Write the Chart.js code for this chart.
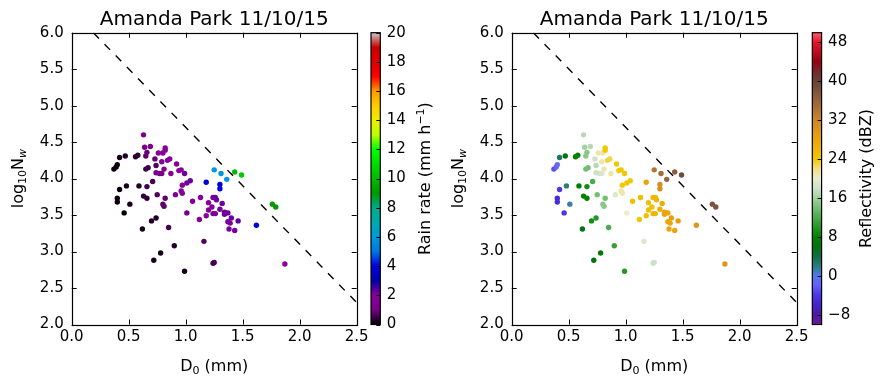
<!DOCTYPE html>
<html><head><meta charset="utf-8">
<script src="https://cdn.jsdelivr.net/npm/chart.js@4.4.1/dist/chart.umd.min.js"></script>
<style>
html,body{margin:0;padding:0;background:#fff;}
#wrap{position:relative;width:886px;height:386px;overflow:hidden;background:#fff;}
#wrap canvas{position:absolute;left:0;top:0;width:886px;height:386px;}
</style></head><body>
<div id="wrap">
<canvas id="c1" width="886" height="386"></canvas>
<canvas id="c2" width="886" height="386"></canvas>
<canvas id="c3" width="886" height="386"></canvas>
<canvas id="c4" width="886" height="386"></canvas>
</div>
<script>
// ---------------- data ----------------
const titleText = 'Amanda Park 11/10/15';
const d0 = [0.63,0.64,0.69,0.66,0.65,0.76,0.80,0.82,0.82,0.73,0.79,0.84,0.86,0.74,0.67,0.65,0.81,0.74,0.77,0.79,0.87,0.92,0.94,0.96,0.99,
  0.42,0.47,0.56,0.58,0.37,0.39,0.40,0.71,0.59,0.66,0.48,0.42,0.40,0.40,0.51,0.46,0.63,0.66,0.75,0.82,0.80,0.81,0.91,0.96,0.97,
  0.97,1.01,1.04,1.06,1.01,0.70,0.74,0.62,0.85,0.90,0.78,0.72,0.99,1.16,1.24,1.25,1.18,1.25,1.31,1.36,1.30,1.30,1.43,1.49,
  1.13,1.20,1.24,1.26,1.27,1.32,1.23,1.20,1.30,1.24,1.26,1.18,1.12,1.34,1.34,1.35,1.37,1.40,1.37,1.39,1.46,1.38,1.43,
  1.62,1.76,1.79,1.87];
const logNw = [4.60,4.43,4.44,4.36,4.31,4.35,4.35,4.42,4.39,4.27,4.23,4.25,4.27,4.18,4.15,4.13,4.13,4.08,4.07,4.07,4.07,4.20,4.11,4.12,4.07,
  4.29,4.31,4.30,4.32,4.13,4.16,4.19,3.96,3.90,3.89,3.90,3.85,3.73,3.68,3.65,3.53,3.76,3.73,3.78,3.73,3.65,3.62,3.78,3.83,3.80,
  3.91,3.94,3.97,3.69,3.53,3.42,3.46,3.31,3.33,3.08,2.98,2.88,2.73,3.14,2.84,2.85,3.95,4.12,4.07,3.99,3.92,3.86,4.09,4.05,
  3.74,3.67,3.74,3.74,3.71,3.66,3.61,3.57,3.58,3.52,3.52,3.49,3.44,3.54,3.51,3.53,3.53,3.46,3.41,3.39,3.42,3.31,3.29,
  3.36,3.65,3.61,2.83];
const rainRate = [1.4,1.0,1.3,0.9,0.8,1.8,1.8,2.0,2.0,0.8,1.8,2.0,2.0,0.7,0.5,0.5,1.8,1.0,1.2,1.2,1.8,2.0,2.0,2.0,2.2,
  0.2,0.3,0.3,0.4,0.1,0.1,0.1,0.6,0.3,0.5,0.2,0.1,0.1,0.1,0.2,0.1,0.4,0.4,0.7,0.8,0.8,0.8,1.5,1.8,1.8,
  2.0,2.1,2.2,2.0,1.0,0.3,0.3,0.2,0.6,0.3,0.2,0.2,0.2,0.7,0.6,0.6,4.0,6.0,6.0,6.0,4.0,4.0,10.0,10.5,
  2.0,2.0,2.2,2.2,2.2,2.2,2.0,2.0,2.2,2.1,2.1,2.0,1.8,2.2,2.2,2.2,2.2,2.2,2.1,2.1,2.3,2.1,2.1,
  4.0,9.0,9.0,2.0];
const reflectivity = [17,16,17,15,15,21,21,24,24,18,21,23,23,17,14,14,21,18,18,19,21,24,24,24,24,
  3,6,8,8,-3,-2,-1,12,7,9,2,-4,-5,-5,1,-4,8,8,14,14,15,15,19,21,21,
  24,24,24,25,20,9,10,6,12,11,7,6,10,19,18,18,28,34,35,36,31,31,37,39,
  25,25,26,26,26,27,25,25,27,26,26,25,24,28,28,28,28,29,28,28,29,28,28,
  30,38,38,30];
const lineD0 = [0.19, 2.5];
const lineNw = [6.0, 2.3];
const xRange = [0, 2.5];
const yRange = [2, 6];
const xTicks = [0, 0.5, 1.0, 1.5, 2.0, 2.5];
const yTicks = [2.0, 2.5, 3.0, 3.5, 4.0, 4.5, 5.0, 5.5, 6.0];
const rainRange = [0, 20];
const rainTicks = [0, 2, 4, 6, 8, 10, 12, 14, 16, 18, 20];
const reflRange = [-10, 50];
const reflTicks = [-8, 0, 8, 16, 24, 32, 40, 48];

// ---------------- colormaps (styles) ----------------
const NIPY_R = [0,0.4667,0.5333,0,0,0,0,0,0,0,0,0,0,0.7333,0.9333,1,1,1,0.8667,0.8,0.8];
const NIPY_G = [0,0,0,0,0,0.4667,0.6,0.6667,0.6667,0.6,0.7333,0.8667,1,1,0.9333,0.8,0.6,0,0,0,0.8];
const NIPY_B = [0,0.5333,0.6,0.6667,0.8667,0.8667,0.8667,0.6667,0.5333,0,0,0,0,0,0,0,0,0,0,0,0.8];
function nipy(t){
  t = Math.max(0, Math.min(1, t));
  const f = t/0.05, i = Math.min(19, Math.floor(f)), u = f - i;
  const c = a => Math.round(255*(a[i] + (a[i+1]-a[i])*u));
  return `rgb(${c(NIPY_R)},${c(NIPY_G)},${c(NIPY_B)})`;
}
const REFL_STOPS = [
  [-10,[110,25,150]],[-8,[75,25,165]],[-6,[65,35,200]],[-4,[75,55,230]],[-2,[100,95,250]],
  [0,[85,120,235]],[1,[60,125,175]],[2,[40,125,125]],[4,[15,110,70]],[6,[0,115,10]],[8,[0,130,0]],
  [10,[35,150,35]],[12,[75,170,75]],[14,[115,190,115]],[16,[160,210,160]],[18,[205,225,200]],
  [20,[235,235,205]],[22,[240,225,130]],[24,[240,200,0]],[28,[235,165,10]],[32,[205,135,40]],
  [36,[150,100,60]],[40,[105,65,55]],[42,[115,40,45]],[44,[150,0,20]],[48,[230,20,40]],[50,[255,90,110]]];
function reflCmap(v){
  if (v <= REFL_STOPS[0][0]) return `rgb(${REFL_STOPS[0][1].join(',')})`;
  for (let k=1;k<REFL_STOPS.length;k++){
    const [v1,c1] = REFL_STOPS[k], [v0,c0] = REFL_STOPS[k-1];
    if (v <= v1){ const u=(v-v0)/(v1-v0); return `rgb(${c0.map((a,j)=>Math.round(a+(c1[j]-a)*u)).join(',')})`; }
  }
  return `rgb(${REFL_STOPS[REFL_STOPS.length-1][1].join(',')})`;
}
const rainCmap = v => nipy((v - rainRange[0])/(rainRange[1]-rainRange[0]));

// ---------------- layout / style ----------------
const FONT = "'DejaVu Sans'";
const TICK_FONT = {family: "DejaVu Sans", size: 15};
const TOP = 32.7, BOTTOM_H = 61.5, AX_W = 71.7, PLOT_W = 285;

function drawRich(ctx, segs, x, y, rot){
  ctx.save();
  ctx.translate(x, y); ctx.rotate(rot);
  ctx.fillStyle = '#000'; ctx.textBaseline = 'alphabetic'; ctx.textAlign = 'left';
  let total = 0;
  segs.forEach(s => { ctx.font = (s.italic?'italic ':'') + s.size + 'px ' + FONT; s.w = ctx.measureText(s.text).width; total += s.w; });
  let cx = -total/2;
  segs.forEach(s => { ctx.font = (s.italic?'italic ':'') + s.size + 'px ' + FONT; ctx.fillText(s.text, cx, s.dy||0); cx += s.w; });
  ctx.restore();
}

const setTicks = arr => (s => { s.ticks = arr.map(v => ({value: v})); });

function scatterChart(id, left, colors){
  const framePlugin = {
    id: 'frame' + id,
    afterDraw(chart){
      const {ctx, chartArea: a, scales} = chart;
      ctx.save();
      ctx.strokeStyle = '#000'; ctx.lineWidth = 1;
      ctx.beginPath();
      scales.x.ticks.forEach(t => { const p = Math.round(scales.x.getPixelForValue(t.value)) + 0.5;
        ctx.moveTo(p, a.bottom); ctx.lineTo(p, a.bottom - 5); ctx.moveTo(p, a.top); ctx.lineTo(p, a.top + 5); });
      scales.y.ticks.forEach(t => { const p = Math.round(scales.y.getPixelForValue(t.value)) + 0.5;
        ctx.moveTo(a.left, p); ctx.lineTo(a.left + 5, p); ctx.moveTo(a.right, p); ctx.lineTo(a.right - 5, p); });
      ctx.stroke();
      ctx.lineWidth = 1.2;
      ctx.strokeRect(Math.round(a.left)+0.5, Math.round(a.top)+0.5, Math.round(a.right-a.left), Math.round(a.bottom-a.top));
      ctx.restore();
      const cxm = (a.left + a.right)/2, cym = (a.top + a.bottom)/2;
      drawRich(ctx, [{text: titleText, size: 20}], cxm, 25, 0);
      drawRich(ctx, [{text:'D', size:16},{text:'0', size:11, dy:3},{text:' (mm)', size:16}], cxm, 370.5, 0);
      drawRich(ctx, [{text:'log', size:16},{text:'10', size:11, dy:3},{text:'N', size:16},{text:'w', size:11, dy:3, italic:true}], a.left - 48.5, cym, -Math.PI/2);
    }
  };
  return new Chart(document.getElementById(id), {
    type: 'scatter',
    data: { datasets: [
      { data: d0.map((x,i) => ({x, y: logNw[i]})), pointBackgroundColor: colors, pointBorderWidth: 0,
        pointRadius: 2.7, pointHoverRadius: 2.7 },
      { data: lineD0.map((x,i) => ({x, y: lineNw[i]})), showLine: true, borderColor: '#000', borderWidth: 1.4,
        borderDash: [8, 8], pointRadius: 0, fill: false }
    ]},
    options: {
      responsive: false, animation: false, devicePixelRatio: 1, events: [],
      layout: { padding: { left: left, right: 886 - left - AX_W - PLOT_W, top: TOP, bottom: 0 } },
      plugins: { legend: {display: false}, tooltip: {enabled: false}, title: {display: false} },
      scales: {
        x: { type: 'linear', min: xRange[0], max: xRange[1], afterBuildTicks: setTicks(xTicks),
             afterFit: s => { s.height = BOTTOM_H; },
             grid: {display: false, drawTicks: false}, border: {display: false},
             ticks: {padding: 4, color: '#000', font: TICK_FONT, maxRotation: 0, autoSkip: false, callback: v => Number(v).toFixed(1)} },
        y: { type: 'linear', min: yRange[0], max: yRange[1], afterBuildTicks: setTicks(yTicks),
             afterFit: s => { s.width = AX_W; },
             grid: {display: false, drawTicks: false}, border: {display: false},
             ticks: {padding: 8, color: '#000', font: TICK_FONT, autoSkip: false, callback: v => Number(v).toFixed(1)} }
      }
    },
    plugins: [framePlugin]
  });
}

function colorbarChart(id, left, range, ticks, cmap, labelSegs){
  const CB_W = 9.3, SCALE_W = 50;
  const cbPlugin = {
    id: 'cb' + id,
    beforeDraw(chart){
      const {ctx, chartArea: a, scales} = chart;
      const ys = scales.y;
      ctx.save();
      for (let py = Math.floor(a.top); py < Math.ceil(a.bottom); py++){
        const v = ys.getValueForPixel(py + 0.5);
        ctx.fillStyle = cmap(v);
        ctx.fillRect(a.left, py, a.right - a.left, 1);
      }
      ctx.restore();
    },
    afterDraw(chart){
      const {ctx, chartArea: a, scales} = chart;
      ctx.save();
      ctx.strokeStyle = '#000'; ctx.lineWidth = 1;
      ctx.beginPath();
      scales.y.ticks.forEach(t => { const p = Math.round(scales.y.getPixelForValue(t.value)) + 0.5;
        ctx.moveTo(a.right, p); ctx.lineTo(a.right - 4, p); });
      ctx.stroke();
      ctx.lineWidth = 1.2;
      ctx.strokeRect(a.left, a.top, a.right - a.left, a.bottom - a.top);
      ctx.restore();
      drawRich(ctx, labelSegs, a.right + 49.2, (a.top + a.bottom)/2, -Math.PI/2);
    }
  };
  return new Chart(document.getElementById(id), {
    type: 'scatter',
    data: { datasets: [] },
    options: {
      responsive: false, animation: false, devicePixelRatio: 1, events: [],
      layout: { padding: { left: left, right: 886 - left - CB_W - SCALE_W, top: TOP, bottom: BOTTOM_H } },
      plugins: { legend: {display: false}, tooltip: {enabled: false} },
      scales: {
        x: { display: false, min: 0, max: 1 },
        y: { type: 'linear', position: 'right', min: range[0], max: range[1], afterBuildTicks: setTicks(ticks),
             afterFit: s => { s.width = SCALE_W; },
             grid: {display: false, drawTicks: false}, border: {display: false},
             ticks: {padding: 6.5, color: '#000', font: TICK_FONT, autoSkip: false,
                     callback: v => String(v).replace('-', '\u2212')} }
      }
    },
    plugins: [cbPlugin]
  });
}

scatterChart('c1', 0, rainRate.map(rainCmap));
colorbarChart('c2', 371, rainRange, rainTicks, rainCmap,
  [{text:'Rain rate (mm h', size:16},{text:'\u22121', size:11, dy:-6},{text:')', size:16}]);
scatterChart('c3', 440, reflectivity.map(reflCmap));
colorbarChart('c4', 812.3, reflRange, reflTicks, reflCmap, [{text:'Reflectivity (dBZ)', size:16}]);
</script>
</body></html>
